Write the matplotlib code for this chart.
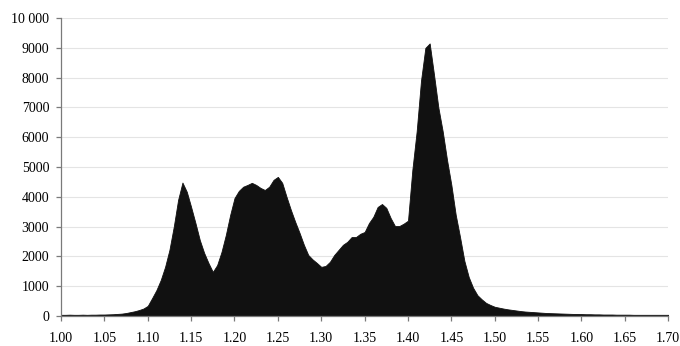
import numpy as np
import matplotlib.pyplot as plt

# bin centres (step 0.005) and counts per bin
bins = np.round(np.arange(1.000, 1.7001, 0.005), 3)
counts = [
    40, 40, 45, 40, 40, 45, 40, 45, 45, 50,          # 1.000 - 1.045
    50, 55, 60, 70, 80, 100, 130, 160, 200, 250,     # 1.050 - 1.095
    340, 600, 870, 1210, 1650, 2220, 3000, 3900, 4480, 4170,   # 1.100 - 1.145
    3660, 3120, 2550, 2120, 1780, 1480, 1710, 2150, 2720, 3390,  # 1.150 - 1.195
    3960, 4200, 4340, 4400, 4470, 4400, 4300, 4230, 4340, 4570,  # 1.200 - 1.245
    4670, 4470, 4000, 3560, 3160, 2790, 2390, 2050, 1900, 1780,  # 1.250 - 1.295
    1650, 1680, 1820, 2050, 2220, 2390, 2490, 2650, 2650, 2760,  # 1.300 - 1.345
    2820, 3120, 3330, 3660, 3760, 3630, 3290, 3020, 3020, 3100,  # 1.350 - 1.395
    3200, 4900, 6200, 7900, 9000, 9150, 8100, 7000, 6200, 5240,  # 1.400 - 1.445
    4400, 3400, 2650, 1850, 1310, 950, 700, 560, 440, 370,       # 1.450 - 1.495
    310, 280, 250, 225, 205, 185, 165, 150, 140, 130,            # 1.500 - 1.545
    120, 110, 100, 95, 90, 85, 80, 75, 70, 70,                   # 1.550 - 1.595
    65, 60, 60, 55, 55, 50, 50, 50, 45, 45,                      # 1.600 - 1.645
    45, 45, 40, 40, 40, 40, 40, 40, 40, 40,                      # 1.650 - 1.695
    40,                                                          # 1.700
]

xticks = [1.00, 1.05, 1.10, 1.15, 1.20, 1.25, 1.30, 1.35, 1.40, 1.45, 1.50, 1.55, 1.60, 1.65, 1.70]
yticks = [0, 1000, 2000, 3000, 4000, 5000, 6000, 7000, 8000, 9000, 10000]
ytick_labels = ['0', '1000', '2000', '3000', '4000', '5000', '6000', '7000', '8000', '9000', '10 000']

plt.rcParams['font.family'] = ['Liberation Serif', 'DejaVu Serif']

fig = plt.figure(figsize=(6.8, 3.46), dpi=100)
ax = fig.add_axes([0.0897, 0.0867, 0.893, 0.861])

ax.fill_between(bins, counts, 0, color='#111111', linewidth=0.6, edgecolor='#111111')

ax.set_xlim(1.0, 1.7)
ax.set_ylim(0, 10000)
ax.set_xticks(xticks)
ax.set_xticklabels(['%.2f' % t for t in xticks])
ax.set_yticks(yticks)
ax.set_yticklabels(ytick_labels)

ax.grid(axis='y', color='#e4e4e4', linewidth=0.8)
ax.set_axisbelow(True)

for side in ['top', 'right']:
    ax.spines[side].set_visible(False)
for side in ['left', 'bottom']:
    ax.spines[side].set_color('#7a7a7a')
    ax.spines[side].set_linewidth(0.9)

ax.tick_params(axis='x', direction='out', length=3.5, width=0.9, color='#7a7a7a',
               pad=8, labelsize=10)
ax.tick_params(axis='y', direction='out', length=3.5, width=0.9, color='#7a7a7a',
               pad=5, labelsize=10)

fig.savefig('out.png', dpi=100)
